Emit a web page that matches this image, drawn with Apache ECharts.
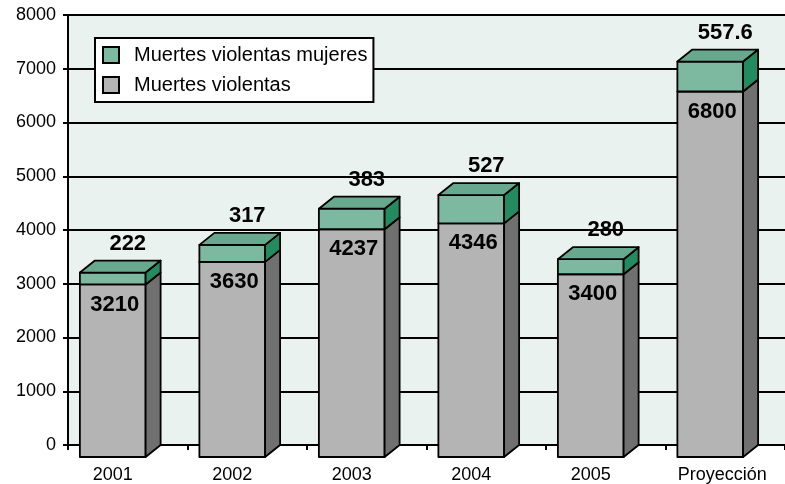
<!DOCTYPE html>
<html>
<head>
<meta charset="utf-8">
<script src="https://cdn.jsdelivr.net/npm/echarts@6/dist/echarts.min.js"></script>
<style>
html,body{margin:0;padding:0;background:#fff;}
#chart{width:785px;height:484px;}
</style>
</head>
<body>
<div id="chart"></div>
<script>
var categories = ['2001', '2002', '2003', '2004', '2005', 'Proyección'];
var violentas = [3210, 3630, 4237, 4346, 3400, 6800];
var mujeres = [222, 317, 383, 527, 280, 557.6];
var yTicks = [0, 1000, 2000, 3000, 4000, 5000, 6000, 7000, 8000];

var FONT = '"Liberation Sans", Arial, sans-serif';
var DX = 15, DY = 12;

var grayData = categories.map(function (c, i) { return [i, 0, violentas[i], String(violentas[i])]; });
var greenData = categories.map(function (c, i) { return [i, violentas[i], violentas[i] + mujeres[i], String(mujeres[i])]; });

function makeRender(front, side, top, isTop) {
  return function (params, api) {
    var i = api.value(0);
    var p0 = api.coord([i, api.value(1)]);
    var p1 = api.coord([i, api.value(2)]);
    var bw = api.size([1, 0])[0] * 0.55;
    var cx = p0[0] - DX;
    var x1 = cx - bw / 2, x2 = cx + bw / 2;
    var yb = p0[1] + DY, yt = p1[1] + DY;
    var stroke = {stroke: '#000', lineWidth: 1.8, lineJoin: 'round'};
    var children = [
      {type: 'rect', shape: {x: x1, y: yt, width: bw, height: yb - yt},
        style: Object.assign({fill: front}, stroke)},
      {type: 'polygon', shape: {points: [[x2, yb], [x2 + DX, yb - DY], [x2 + DX, yt - DY], [x2, yt]]},
        style: Object.assign({fill: side}, stroke)}
    ];
    if (isTop) {
      children.push({type: 'polygon', shape: {points: [[x1, yt], [x1 + DX, yt - DY], [x2 + DX, yt - DY], [x2, yt]]},
        style: Object.assign({fill: top}, stroke)});
      children.push({type: 'text', x: p1[0], y: p1[1] - 17,
        style: {text: api.value(3), fill: '#000', font: 'bold 22px ' + FONT, align: 'center', verticalAlign: 'middle'}});
    } else {
      children.push({type: 'text', x: cx + 2, y: yt + 20,
        style: {text: api.value(3), fill: '#000', font: 'bold 22px ' + FONT, align: 'center', verticalAlign: 'middle'}});
    }
    return {type: 'group', children: children};
  };
}

var chart = echarts.init(document.getElementById('chart'), null, {renderer: 'canvas'});
chart.setOption({
  animation: false,
  backgroundColor: '#fff',
  textStyle: {fontFamily: FONT},
  grid: {left: 68, top: 15, width: 720, height: 430, show: true, backgroundColor: '#EAF2F0', borderWidth: 0},
  legend: {
    orient: 'vertical', left: 95, top: 38,
    backgroundColor: '#fff', borderColor: '#000', borderWidth: 2,
    padding: [7, 6, 7, 7], itemWidth: 16, itemHeight: 16, itemGap: 10,
    icon: 'rect',
    textStyle: {fontSize: 20, color: '#000', fontFamily: FONT, padding: [0, 0, 0, 10]},
    data: ['Muertes violentas mujeres', 'Muertes violentas']
  },
  xAxis: {
    type: 'category', data: categories,
    axisLine: {lineStyle: {color: '#000', width: 2}},
    axisTick: {show: true, length: 5, lineStyle: {color: '#000', width: 2}},
    axisLabel: {
      interval: 0, margin: 21, color: '#000', fontSize: 17, fontFamily: FONT,
      formatter: function (v) { return v === 'Proyección' ? '{p|' + v + '}' : '{a|' + v + '}'; },
      rich: {
        a: {fontSize: 18, fontFamily: FONT, color: '#000', padding: [0, 30, 0, 0]},
        p: {fontSize: 18, fontFamily: FONT, color: '#000', padding: [0, 6, 0, 0]}
      }
    },
    splitLine: {show: false}
  },
  yAxis: {
    type: 'value', min: 0, max: 8000, interval: 1000,
    axisLine: {show: true, lineStyle: {color: '#000', width: 2}},
    axisTick: {show: true, length: 5, lineStyle: {color: '#000', width: 2}},
    axisLabel: {margin: 12, color: '#000', fontSize: 18, fontFamily: FONT,
      formatter: function (v) { return yTicks.indexOf(v) >= 0 ? String(v) : ''; }},
    splitLine: {show: true, lineStyle: {color: '#000', width: 2}}
  },
  series: [
    {name: 'Muertes violentas', type: 'custom', clip: false, z: 3,
      itemStyle: {color: '#B4B4B4', borderColor: '#000', borderWidth: 1.5},
      renderItem: makeRender('#B4B4B4', '#707070', '#909090', false),
      data: grayData},
    {name: 'Muertes violentas mujeres', type: 'custom', clip: false, z: 4,
      itemStyle: {color: '#7DB8A0', borderColor: '#000', borderWidth: 1.5},
      renderItem: makeRender('#7DB8A0', '#248A60', '#68A88E', true),
      data: greenData}
  ]
});
</script>
</body>
</html>
